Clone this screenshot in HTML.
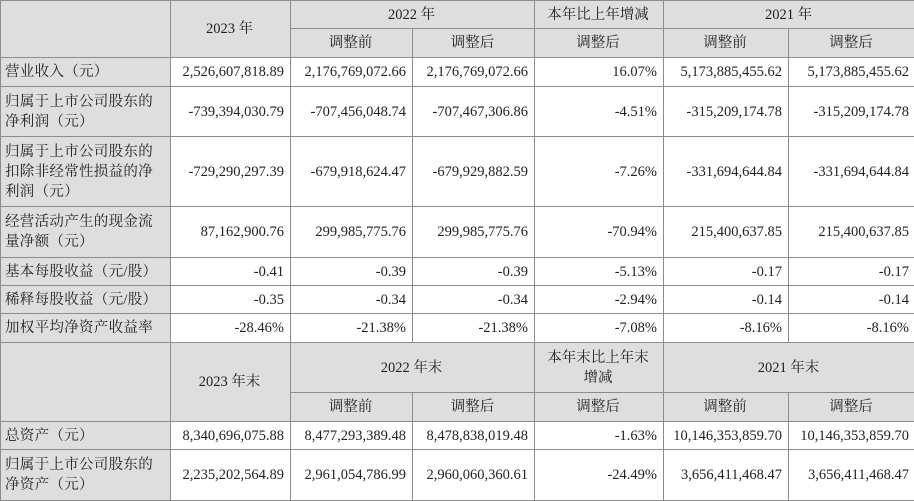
<!DOCTYPE html>
<html><head><meta charset="utf-8"><style>
body{margin:0;background:#fff;width:914px;height:500px;overflow:hidden}
table{border-collapse:collapse;table-layout:fixed;width:915px;font-family:"Liberation Serif","Noto Serif CJK SC",serif;font-size:14.5px;color:#222}
td{border:1px solid #8c8c8c;padding:0 6px 0 4px;text-align:right;line-height:20px;overflow:hidden;white-space:nowrap}
td.l{text-align:left;background:#dedede;white-space:normal;letter-spacing:0.3px}
td.h{background:#dedede;text-align:center}
td.w{background:#fff}
</style></head><body>
<table>
<colgroup><col style="width:170px"><col style="width:120px"><col style="width:122px"><col style="width:122px"><col style="width:129px"><col style="width:125px"><col style="width:127px"></colgroup>
<tr style="height:28px"><td class="h" rowspan="2"></td><td class="h" rowspan="2">2023 年</td><td class="h" colspan="2">2022 年</td><td class="h">本年比上年增减</td><td class="h" colspan="2">2021 年</td></tr>
<tr style="height:29px"><td class="h">调整前</td><td class="h">调整后</td><td class="h">调整后</td><td class="h">调整前</td><td class="h">调整后</td></tr>
<tr style="height:29px"><td class="l">营业收入（元）</td><td>2,526,607,818.89</td><td>2,176,769,072.66</td><td>2,176,769,072.66</td><td>16.07%</td><td>5,173,885,455.62</td><td>5,173,885,455.62</td></tr>
<tr style="height:50px"><td class="l">归属于上市公司股东的净利润（元）</td><td>-739,394,030.79</td><td>-707,456,048.74</td><td>-707,467,306.86</td><td>-4.51%</td><td>-315,209,174.78</td><td>-315,209,174.78</td></tr>
<tr style="height:70px"><td class="l">归属于上市公司股东的扣除非经常性损益的净利润（元）</td><td>-729,290,297.39</td><td>-679,918,624.47</td><td>-679,929,882.59</td><td>-7.26%</td><td>-331,694,644.84</td><td>-331,694,644.84</td></tr>
<tr style="height:51px"><td class="l">经营活动产生的现金流量净额（元）</td><td>87,162,900.76</td><td>299,985,775.76</td><td>299,985,775.76</td><td>-70.94%</td><td>215,400,637.85</td><td>215,400,637.85</td></tr>
<tr style="height:28px"><td class="l">基本每股收益（元/股）</td><td>-0.41</td><td>-0.39</td><td>-0.39</td><td>-5.13%</td><td>-0.17</td><td>-0.17</td></tr>
<tr style="height:28px"><td class="l">稀释每股收益（元/股）</td><td>-0.35</td><td>-0.34</td><td>-0.34</td><td>-2.94%</td><td>-0.14</td><td>-0.14</td></tr>
<tr style="height:29px"><td class="l">加权平均净资产收益率</td><td>-28.46%</td><td>-21.38%</td><td>-21.38%</td><td>-7.08%</td><td>-8.16%</td><td>-8.16%</td></tr>
<tr style="height:50px"><td class="h" rowspan="2"></td><td class="h" rowspan="2">2023 年末</td><td class="h" colspan="2">2022 年末</td><td class="h" style="white-space:normal">本年末比上年末<br>增减</td><td class="h" colspan="2">2021 年末</td></tr>
<tr style="height:29px"><td class="h">调整前</td><td class="h">调整后</td><td class="h">调整后</td><td class="h">调整前</td><td class="h">调整后</td></tr>
<tr style="height:28px"><td class="l">总资产（元）</td><td>8,340,696,075.88</td><td>8,477,293,389.48</td><td>8,478,838,019.48</td><td>-1.63%</td><td>10,146,353,859.70</td><td>10,146,353,859.70</td></tr>
<tr style="height:51px"><td class="l">归属于上市公司股东的净资产（元）</td><td>2,235,202,564.89</td><td>2,961,054,786.99</td><td>2,960,060,360.61</td><td>-24.49%</td><td>3,656,411,468.47</td><td>3,656,411,468.47</td></tr>
</table>
</body></html>
